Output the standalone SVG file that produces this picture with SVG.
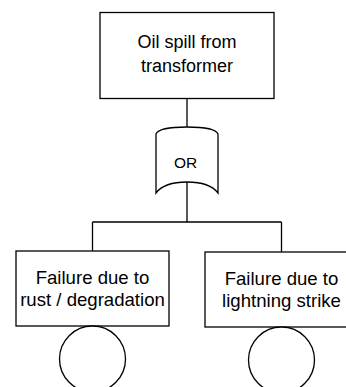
<svg xmlns="http://www.w3.org/2000/svg" width="346" height="387" viewBox="0 0 346 387">
<style>
.box{fill:#fff;stroke:#000;stroke-width:1.3}
.ln{fill:none;stroke:#000;stroke-width:1.3}
text{font-family:"Liberation Sans",Arial,sans-serif;font-size:18px;fill:#000;text-anchor:middle}
.bt{font-size:18.6px}
.gt{font-size:15.5px}
</style>
<rect width="346" height="387" fill="#fff"/>
<g id="connectors">
<path class="ln" d="M187,98 V127 M187,182 V222 M92.5,222 H281.5 M92.5,222 V251 M281.5,222 V252"/>
</g>
<g id="top-event">
<rect class="box" x="100" y="12.5" width="174" height="86"/>
<text x="187" y="48">Oil spill from</text>
<text x="187" y="72">transformer</text>
</g>
<g id="or-gate">
<path class="box" d="M156,134 C158,129 170,127 187,127 C204,127 216,129 218,134 L218,193 C212,185 200,182 187,182 C174,182 162,185 156,193 Z"/>
<text class="gt" x="185.5" y="167.5">OR</text>
</g>
<g id="event-rust">
<rect class="box" x="16" y="251" width="153" height="75"/>
<text class="bt" x="92.5" y="284">Failure due to</text>
<text class="bt" x="92.5" y="306">rust / degradation</text>
<circle class="box" cx="92.5" cy="359" r="33"/>
</g>
<g id="event-lightning">
<rect class="box" x="205" y="252" width="153" height="75"/>
<text class="bt" x="281.5" y="285">Failure due to</text>
<text class="bt" x="281.5" y="307">lightning strike</text>
<circle class="box" cx="281.5" cy="360" r="33"/>
</g>
</svg>
